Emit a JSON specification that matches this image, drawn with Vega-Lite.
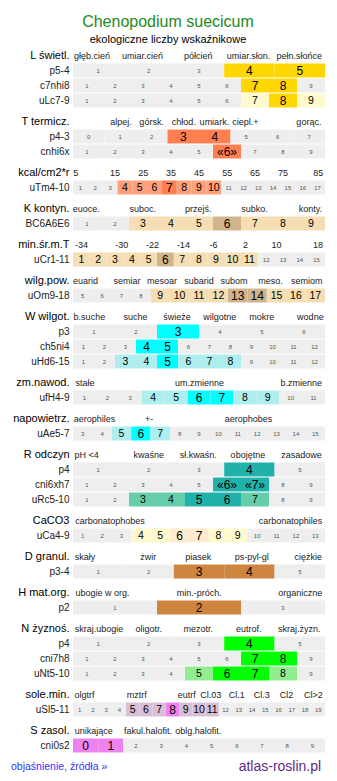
{
  "$schema": "https://vega.github.io/schema/vega-lite/v6.json",
  "padding": {"left": 10, "top": 14, "right": 5, "bottom": 5},
  "background": "white",
  "config": {"view": {"stroke": null}, "font": "Liberation Sans"},
  "title": {
    "text": "Chenopodium suecicum",
    "subtitle": "ekologiczne liczby wskaźnikowe",
    "color": "#228B22",
    "fontSize": 16,
    "fontWeight": "normal",
    "font": "Liberation Sans",
    "subtitleFont": "Liberation Sans",
    "subtitleFontSize": 11,
    "subtitleColor": "#000000",
    "subtitlePadding": 4,
    "anchor": "middle",
    "frame": "bounds",
    "offset": 3
  },
  "data": {"values": [
    {"g":"01","ln":"L świetl.","k":"h","t":"głęb.cień","p":0.075},
    {"g":"01","ln":"L świetl.","k":"h","t":"umiar.cień","p":0.276},
    {"g":"01","ln":"L świetl.","k":"h","t":"półcień","p":0.497},
    {"g":"01","ln":"L świetl.","k":"h","t":"umiar.słon.","p":0.696},
    {"g":"01","ln":"L świetl.","k":"h","t":"pełn.słońce","p":0.898},
    {"g":"01","ln":"p5-4","k":"c","t":"1","c":0},
    {"g":"01","ln":"p5-4","k":"c","t":"2","c":0},
    {"g":"01","ln":"p5-4","k":"c","t":"3","c":0},
    {"g":"01","ln":"p5-4","k":"c","t":"4","c":2},
    {"g":"01","ln":"p5-4","k":"c","t":"5","c":2},
    {"g":"01","ln":"c7nhi8","k":"c","t":"1","c":0},
    {"g":"01","ln":"c7nhi8","k":"c","t":"2","c":0},
    {"g":"01","ln":"c7nhi8","k":"c","t":"3","c":0},
    {"g":"01","ln":"c7nhi8","k":"c","t":"4","c":0},
    {"g":"01","ln":"c7nhi8","k":"c","t":"5","c":0},
    {"g":"01","ln":"c7nhi8","k":"c","t":"6","c":0},
    {"g":"01","ln":"c7nhi8","k":"c","t":"7","c":2},
    {"g":"01","ln":"c7nhi8","k":"c","t":"8","c":2},
    {"g":"01","ln":"c7nhi8","k":"c","t":"9","c":0},
    {"g":"01","ln":"uLc7-9","k":"c","t":"1","c":0},
    {"g":"01","ln":"uLc7-9","k":"c","t":"2","c":0},
    {"g":"01","ln":"uLc7-9","k":"c","t":"3","c":0},
    {"g":"01","ln":"uLc7-9","k":"c","t":"4","c":0},
    {"g":"01","ln":"uLc7-9","k":"c","t":"5","c":0},
    {"g":"01","ln":"uLc7-9","k":"c","t":"6","c":0},
    {"g":"01","ln":"uLc7-9","k":"c","t":"7","c":1},
    {"g":"01","ln":"uLc7-9","k":"c","t":"8","c":2},
    {"g":"01","ln":"uLc7-9","k":"c","t":"9","c":1},

    {"g":"02","ln":"T termicz.","k":"h","t":"alpej.","p":0.190},
    {"g":"02","ln":"T termicz.","k":"h","t":"górsk.","p":0.312},
    {"g":"02","ln":"T termicz.","k":"h","t":"chłod.","p":0.440},
    {"g":"02","ln":"T termicz.","k":"h","t":"umiark.","p":0.561},
    {"g":"02","ln":"T termicz.","k":"h","t":"ciepl.+","p":0.684},
    {"g":"02","ln":"T termicz.","k":"h","t":"gorąc.","p":0.936},
    {"g":"02","ln":"p4-3","k":"c","t":"0","c":0},
    {"g":"02","ln":"p4-3","k":"c","t":"1","c":0},
    {"g":"02","ln":"p4-3","k":"c","t":"2","c":0},
    {"g":"02","ln":"p4-3","k":"c","t":"3","c":2},
    {"g":"02","ln":"p4-3","k":"c","t":"4","c":2},
    {"g":"02","ln":"p4-3","k":"c","t":"5","c":0},
    {"g":"02","ln":"p4-3","k":"c","t":"6","c":0},
    {"g":"02","ln":"p4-3","k":"c","t":"7","c":0},
    {"g":"02","ln":"cnhi6x","k":"c","t":"1","c":0},
    {"g":"02","ln":"cnhi6x","k":"c","t":"2","c":0},
    {"g":"02","ln":"cnhi6x","k":"c","t":"3","c":0},
    {"g":"02","ln":"cnhi6x","k":"c","t":"4","c":0},
    {"g":"02","ln":"cnhi6x","k":"c","t":"5","c":0},
    {"g":"02","ln":"cnhi6x","k":"c","t":"«6»","c":2},
    {"g":"02","ln":"cnhi6x","k":"c","t":"7","c":0},
    {"g":"02","ln":"cnhi6x","k":"c","t":"8","c":0},
    {"g":"02","ln":"cnhi6x","k":"c","t":"9","c":0},

    {"g":"03","ln":"kcal/cm2*r","k":"h","t":"5","p":0.011},
    {"g":"03","ln":"kcal/cm2*r","k":"h","t":"15","p":0.167},
    {"g":"03","ln":"kcal/cm2*r","k":"h","t":"25","p":0.279},
    {"g":"03","ln":"kcal/cm2*r","k":"h","t":"35","p":0.389},
    {"g":"03","ln":"kcal/cm2*r","k":"h","t":"45","p":0.5},
    {"g":"03","ln":"kcal/cm2*r","k":"h","t":"55","p":0.612},
    {"g":"03","ln":"kcal/cm2*r","k":"h","t":"65","p":0.722},
    {"g":"03","ln":"kcal/cm2*r","k":"h","t":"75","p":0.833},
    {"g":"03","ln":"kcal/cm2*r","k":"h","t":"85","p":0.973},
    {"g":"03","ln":"uTm4-10","k":"c","t":"1","c":0},
    {"g":"03","ln":"uTm4-10","k":"c","t":"2","c":0},
    {"g":"03","ln":"uTm4-10","k":"c","t":"3","c":0},
    {"g":"03","ln":"uTm4-10","k":"c","t":"4","c":1},
    {"g":"03","ln":"uTm4-10","k":"c","t":"5","c":1},
    {"g":"03","ln":"uTm4-10","k":"c","t":"6","c":1},
    {"g":"03","ln":"uTm4-10","k":"c","t":"7","c":2},
    {"g":"03","ln":"uTm4-10","k":"c","t":"8","c":1},
    {"g":"03","ln":"uTm4-10","k":"c","t":"9","c":1},
    {"g":"03","ln":"uTm4-10","k":"c","t":"10","c":1},
    {"g":"03","ln":"uTm4-10","k":"c","t":"11","c":0},
    {"g":"03","ln":"uTm4-10","k":"c","t":"12","c":0},
    {"g":"03","ln":"uTm4-10","k":"c","t":"13","c":0},
    {"g":"03","ln":"uTm4-10","k":"c","t":"14","c":0},
    {"g":"03","ln":"uTm4-10","k":"c","t":"15","c":0},
    {"g":"03","ln":"uTm4-10","k":"c","t":"16","c":0},
    {"g":"03","ln":"uTm4-10","k":"c","t":"17","c":0},

    {"g":"04","ln":"K kontyn.","k":"h","t":"euoce.","p":0.053},
    {"g":"04","ln":"K kontyn.","k":"h","t":"suboc.","p":0.277},
    {"g":"04","ln":"K kontyn.","k":"h","t":"przejś.","p":0.497},
    {"g":"04","ln":"K kontyn.","k":"h","t":"subko.","p":0.72},
    {"g":"04","ln":"K kontyn.","k":"h","t":"konty.","p":0.942},
    {"g":"04","ln":"BC6A6E6","k":"c","t":"1","c":0},
    {"g":"04","ln":"BC6A6E6","k":"c","t":"2","c":0},
    {"g":"04","ln":"BC6A6E6","k":"c","t":"3","c":1},
    {"g":"04","ln":"BC6A6E6","k":"c","t":"4","c":1},
    {"g":"04","ln":"BC6A6E6","k":"c","t":"5","c":1},
    {"g":"04","ln":"BC6A6E6","k":"c","t":"6","c":2},
    {"g":"04","ln":"BC6A6E6","k":"c","t":"7","c":1},
    {"g":"04","ln":"BC6A6E6","k":"c","t":"8","c":1},
    {"g":"04","ln":"BC6A6E6","k":"c","t":"9","c":1},

    {"g":"05","ln":"min.śr.m.T","k":"h","t":"-34","p":0.034},
    {"g":"05","ln":"min.śr.m.T","k":"h","t":"-30","p":0.193},
    {"g":"05","ln":"min.śr.m.T","k":"h","t":"-22","p":0.315},
    {"g":"05","ln":"min.śr.m.T","k":"h","t":"-14","p":0.438},
    {"g":"05","ln":"min.śr.m.T","k":"h","t":"-6","p":0.558},
    {"g":"05","ln":"min.śr.m.T","k":"h","t":"2","p":0.685},
    {"g":"05","ln":"min.śr.m.T","k":"h","t":"10","p":0.808},
    {"g":"05","ln":"min.śr.m.T","k":"h","t":"18","p":0.972},
    {"g":"05","ln":"uCr1-11","k":"c","t":"1","c":1},
    {"g":"05","ln":"uCr1-11","k":"c","t":"2","c":1},
    {"g":"05","ln":"uCr1-11","k":"c","t":"3","c":1},
    {"g":"05","ln":"uCr1-11","k":"c","t":"4","c":1},
    {"g":"05","ln":"uCr1-11","k":"c","t":"5","c":1},
    {"g":"05","ln":"uCr1-11","k":"c","t":"6","c":2},
    {"g":"05","ln":"uCr1-11","k":"c","t":"7","c":1},
    {"g":"05","ln":"uCr1-11","k":"c","t":"8","c":1},
    {"g":"05","ln":"uCr1-11","k":"c","t":"9","c":1},
    {"g":"05","ln":"uCr1-11","k":"c","t":"10","c":1},
    {"g":"05","ln":"uCr1-11","k":"c","t":"11","c":1},
    {"g":"05","ln":"uCr1-11","k":"c","t":"12","c":0},
    {"g":"05","ln":"uCr1-11","k":"c","t":"13","c":0},
    {"g":"05","ln":"uCr1-11","k":"c","t":"14","c":0},
    {"g":"05","ln":"uCr1-11","k":"c","t":"15","c":0},

    {"g":"06","ln":"wilg.pow.","k":"h","t":"euarid","p":0.050},
    {"g":"06","ln":"wilg.pow.","k":"h","t":"semiar","p":0.214},
    {"g":"06","ln":"wilg.pow.","k":"h","t":"mesoar","p":0.353},
    {"g":"06","ln":"wilg.pow.","k":"h","t":"subarid","p":0.5},
    {"g":"06","ln":"wilg.pow.","k":"h","t":"subom","p":0.639},
    {"g":"06","ln":"wilg.pow.","k":"h","t":"meso.","p":0.784},
    {"g":"06","ln":"wilg.pow.","k":"h","t":"semiom","p":0.928},
    {"g":"06","ln":"uOm9-18","k":"c","t":"5","c":0},
    {"g":"06","ln":"uOm9-18","k":"c","t":"6","c":0},
    {"g":"06","ln":"uOm9-18","k":"c","t":"7","c":0},
    {"g":"06","ln":"uOm9-18","k":"c","t":"8","c":0},
    {"g":"06","ln":"uOm9-18","k":"c","t":"9","c":1},
    {"g":"06","ln":"uOm9-18","k":"c","t":"10","c":1},
    {"g":"06","ln":"uOm9-18","k":"c","t":"11","c":1},
    {"g":"06","ln":"uOm9-18","k":"c","t":"12","c":1},
    {"g":"06","ln":"uOm9-18","k":"c","t":"13","c":2},
    {"g":"06","ln":"uOm9-18","k":"c","t":"14","c":2},
    {"g":"06","ln":"uOm9-18","k":"c","t":"15","c":1},
    {"g":"06","ln":"uOm9-18","k":"c","t":"16","c":1},
    {"g":"06","ln":"uOm9-18","k":"c","t":"17","c":1},

    {"g":"07","ln":"W wilgot.","k":"h","t":"b.suche","p":0.065},
    {"g":"07","ln":"W wilgot.","k":"h","t":"suche","p":0.248},
    {"g":"07","ln":"W wilgot.","k":"h","t":"świeże","p":0.413},
    {"g":"07","ln":"W wilgot.","k":"h","t":"wilgotne","p":0.582},
    {"g":"07","ln":"W wilgot.","k":"h","t":"mokre","p":0.749},
    {"g":"07","ln":"W wilgot.","k":"h","t":"wodne","p":0.942},
    {"g":"07","ln":"p3","k":"c","t":"1","c":0},
    {"g":"07","ln":"p3","k":"c","t":"2","c":0},
    {"g":"07","ln":"p3","k":"c","t":"3","c":2},
    {"g":"07","ln":"p3","k":"c","t":"4","c":0},
    {"g":"07","ln":"p3","k":"c","t":"5","c":0},
    {"g":"07","ln":"p3","k":"c","t":"6","c":0},
    {"g":"07","ln":"ch5ni4","k":"c","t":"1","c":0},
    {"g":"07","ln":"ch5ni4","k":"c","t":"2","c":0},
    {"g":"07","ln":"ch5ni4","k":"c","t":"3","c":0},
    {"g":"07","ln":"ch5ni4","k":"c","t":"4","c":2},
    {"g":"07","ln":"ch5ni4","k":"c","t":"5","c":2},
    {"g":"07","ln":"ch5ni4","k":"c","t":"6","c":0},
    {"g":"07","ln":"ch5ni4","k":"c","t":"7","c":0},
    {"g":"07","ln":"ch5ni4","k":"c","t":"8","c":0},
    {"g":"07","ln":"ch5ni4","k":"c","t":"9","c":0},
    {"g":"07","ln":"ch5ni4","k":"c","t":"10","c":0},
    {"g":"07","ln":"ch5ni4","k":"c","t":"11","c":0},
    {"g":"07","ln":"ch5ni4","k":"c","t":"12","c":0},
    {"g":"07","ln":"uHd6-15","k":"c","t":"1","c":0},
    {"g":"07","ln":"uHd6-15","k":"c","t":"2","c":0},
    {"g":"07","ln":"uHd6-15","k":"c","t":"3","c":1},
    {"g":"07","ln":"uHd6-15","k":"c","t":"4","c":1},
    {"g":"07","ln":"uHd6-15","k":"c","t":"5","c":2},
    {"g":"07","ln":"uHd6-15","k":"c","t":"6","c":1},
    {"g":"07","ln":"uHd6-15","k":"c","t":"7","c":1},
    {"g":"07","ln":"uHd6-15","k":"c","t":"8","c":1},
    {"g":"07","ln":"uHd6-15","k":"c","t":"9","c":0},
    {"g":"07","ln":"uHd6-15","k":"c","t":"10","c":0},
    {"g":"07","ln":"uHd6-15","k":"c","t":"11","c":0},
    {"g":"07","ln":"uHd6-15","k":"c","t":"12","c":0},

    {"g":"08","ln":"zm.nawod.","k":"h","t":"stałe","p":0.048},
    {"g":"08","ln":"zm.nawod.","k":"h","t":"um.zmienne","p":0.502},
    {"g":"08","ln":"zm.nawod.","k":"h","t":"b.zmienne","p":0.906},
    {"g":"08","ln":"ufH4-9","k":"c","t":"1","c":0},
    {"g":"08","ln":"ufH4-9","k":"c","t":"2","c":0},
    {"g":"08","ln":"ufH4-9","k":"c","t":"3","c":0},
    {"g":"08","ln":"ufH4-9","k":"c","t":"4","c":1},
    {"g":"08","ln":"ufH4-9","k":"c","t":"5","c":1},
    {"g":"08","ln":"ufH4-9","k":"c","t":"6","c":2},
    {"g":"08","ln":"ufH4-9","k":"c","t":"7","c":2},
    {"g":"08","ln":"ufH4-9","k":"c","t":"8","c":1},
    {"g":"08","ln":"ufH4-9","k":"c","t":"9","c":1},
    {"g":"08","ln":"ufH4-9","k":"c","t":"10","c":0},
    {"g":"08","ln":"ufH4-9","k":"c","t":"11","c":0},

    {"g":"09","ln":"napowietrz.","k":"h","t":"aerophiles","p":0.085},
    {"g":"09","ln":"napowietrz.","k":"h","t":"+-","p":0.302},
    {"g":"09","ln":"napowietrz.","k":"h","t":"aerophobes","p":0.696},
    {"g":"09","ln":"uAe5-7","k":"c","t":"3","c":0},
    {"g":"09","ln":"uAe5-7","k":"c","t":"4","c":0},
    {"g":"09","ln":"uAe5-7","k":"c","t":"5","c":1},
    {"g":"09","ln":"uAe5-7","k":"c","t":"6","c":2},
    {"g":"09","ln":"uAe5-7","k":"c","t":"7","c":1},
    {"g":"09","ln":"uAe5-7","k":"c","t":"8","c":0},
    {"g":"09","ln":"uAe5-7","k":"c","t":"9","c":0},
    {"g":"09","ln":"uAe5-7","k":"c","t":"10","c":0},
    {"g":"09","ln":"uAe5-7","k":"c","t":"11","c":0},
    {"g":"09","ln":"uAe5-7","k":"c","t":"12","c":0},
    {"g":"09","ln":"uAe5-7","k":"c","t":"13","c":0},
    {"g":"09","ln":"uAe5-7","k":"c","t":"14","c":0},
    {"g":"09","ln":"uAe5-7","k":"c","t":"15","c":0},

    {"g":"10","ln":"R odczyn","k":"h","t":"pH <4","p":0.054},
    {"g":"10","ln":"R odczyn","k":"h","t":"kwaśne","p":0.301},
    {"g":"10","ln":"R odczyn","k":"h","t":"sł.kwaśn.","p":0.497},
    {"g":"10","ln":"R odczyn","k":"h","t":"obojętne","p":0.694},
    {"g":"10","ln":"R odczyn","k":"h","t":"zasadowe","p":0.907},
    {"g":"10","ln":"p4","k":"c","t":"1","c":0},
    {"g":"10","ln":"p4","k":"c","t":"2","c":0},
    {"g":"10","ln":"p4","k":"c","t":"3","c":0},
    {"g":"10","ln":"p4","k":"c","t":"4","c":2},
    {"g":"10","ln":"p4","k":"c","t":"5","c":0},
    {"g":"10","ln":"cni6xh7","k":"c","t":"1","c":0},
    {"g":"10","ln":"cni6xh7","k":"c","t":"2","c":0},
    {"g":"10","ln":"cni6xh7","k":"c","t":"3","c":0},
    {"g":"10","ln":"cni6xh7","k":"c","t":"4","c":0},
    {"g":"10","ln":"cni6xh7","k":"c","t":"5","c":0},
    {"g":"10","ln":"cni6xh7","k":"c","t":"«6»","c":2},
    {"g":"10","ln":"cni6xh7","k":"c","t":"«7»","c":2},
    {"g":"10","ln":"cni6xh7","k":"c","t":"8","c":0},
    {"g":"10","ln":"cni6xh7","k":"c","t":"9","c":0},
    {"g":"10","ln":"uRc5-10","k":"c","t":"1","c":0},
    {"g":"10","ln":"uRc5-10","k":"c","t":"2","c":0},
    {"g":"10","ln":"uRc5-10","k":"c","t":"3","c":1},
    {"g":"10","ln":"uRc5-10","k":"c","t":"4","c":1},
    {"g":"10","ln":"uRc5-10","k":"c","t":"5","c":2},
    {"g":"10","ln":"uRc5-10","k":"c","t":"6","c":2},
    {"g":"10","ln":"uRc5-10","k":"c","t":"7","c":1},
    {"g":"10","ln":"uRc5-10","k":"c","t":"8","c":0},
    {"g":"10","ln":"uRc5-10","k":"c","t":"9","c":0},

    {"g":"11","ln":"CaCO3","k":"h","t":"carbonatophobes","p":0.147},
    {"g":"11","ln":"CaCO3","k":"h","t":"carbonatophiles","p":0.863},
    {"g":"11","ln":"uCa4-9","k":"c","t":"1","c":0},
    {"g":"11","ln":"uCa4-9","k":"c","t":"2","c":0},
    {"g":"11","ln":"uCa4-9","k":"c","t":"3","c":0},
    {"g":"11","ln":"uCa4-9","k":"c","t":"4","c":1},
    {"g":"11","ln":"uCa4-9","k":"c","t":"5","c":1},
    {"g":"11","ln":"uCa4-9","k":"c","t":"6","c":2},
    {"g":"11","ln":"uCa4-9","k":"c","t":"7","c":2},
    {"g":"11","ln":"uCa4-9","k":"c","t":"8","c":1},
    {"g":"11","ln":"uCa4-9","k":"c","t":"9","c":1},
    {"g":"11","ln":"uCa4-9","k":"c","t":"10","c":0},
    {"g":"11","ln":"uCa4-9","k":"c","t":"11","c":0},
    {"g":"11","ln":"uCa4-9","k":"c","t":"12","c":0},
    {"g":"11","ln":"uCa4-9","k":"c","t":"13","c":0},

    {"g":"12","ln":"D granul.","k":"h","t":"skały","p":0.048},
    {"g":"12","ln":"D granul.","k":"h","t":"żwir","p":0.299},
    {"g":"12","ln":"D granul.","k":"h","t":"piasek","p":0.497},
    {"g":"12","ln":"D granul.","k":"h","t":"ps-pyl-gl","p":0.709},
    {"g":"12","ln":"D granul.","k":"h","t":"ciężkie","p":0.934},
    {"g":"12","ln":"p3-4","k":"c","t":"1","c":0},
    {"g":"12","ln":"p3-4","k":"c","t":"2","c":0},
    {"g":"12","ln":"p3-4","k":"c","t":"3","c":2},
    {"g":"12","ln":"p3-4","k":"c","t":"4","c":2},
    {"g":"12","ln":"p3-4","k":"c","t":"5","c":0},

    {"g":"13","ln":"H mat.org.","k":"h","t":"ubogie w org.","p":0.117},
    {"g":"13","ln":"H mat.org.","k":"h","t":"min.-próch.","p":0.501},
    {"g":"13","ln":"H mat.org.","k":"h","t":"organiczne","p":0.902},
    {"g":"13","ln":"p2","k":"c","t":"1","c":0},
    {"g":"13","ln":"p2","k":"c","t":"2","c":2},
    {"g":"13","ln":"p2","k":"c","t":"3","c":0},

    {"g":"14","ln":"N żyznoś.","k":"h","t":"skraj.ubogie","p":0.103},
    {"g":"14","ln":"N żyznoś.","k":"h","t":"oligotr.","p":0.301},
    {"g":"14","ln":"N żyznoś.","k":"h","t":"mezotr.","p":0.497},
    {"g":"14","ln":"N żyznoś.","k":"h","t":"eutrof.","p":0.697},
    {"g":"14","ln":"N żyznoś.","k":"h","t":"skraj.żyzn.","p":0.898},
    {"g":"14","ln":"p4","k":"c","t":"1","c":0},
    {"g":"14","ln":"p4","k":"c","t":"2","c":0},
    {"g":"14","ln":"p4","k":"c","t":"3","c":0},
    {"g":"14","ln":"p4","k":"c","t":"4","c":2},
    {"g":"14","ln":"p4","k":"c","t":"5","c":0},
    {"g":"14","ln":"cni7h8","k":"c","t":"1","c":0},
    {"g":"14","ln":"cni7h8","k":"c","t":"2","c":0},
    {"g":"14","ln":"cni7h8","k":"c","t":"3","c":0},
    {"g":"14","ln":"cni7h8","k":"c","t":"4","c":0},
    {"g":"14","ln":"cni7h8","k":"c","t":"5","c":0},
    {"g":"14","ln":"cni7h8","k":"c","t":"6","c":0},
    {"g":"14","ln":"cni7h8","k":"c","t":"7","c":2},
    {"g":"14","ln":"cni7h8","k":"c","t":"8","c":2},
    {"g":"14","ln":"cni7h8","k":"c","t":"9","c":0},
    {"g":"14","ln":"uNt5-10","k":"c","t":"1","c":0},
    {"g":"14","ln":"uNt5-10","k":"c","t":"2","c":0},
    {"g":"14","ln":"uNt5-10","k":"c","t":"3","c":0},
    {"g":"14","ln":"uNt5-10","k":"c","t":"4","c":0},
    {"g":"14","ln":"uNt5-10","k":"c","t":"5","c":1},
    {"g":"14","ln":"uNt5-10","k":"c","t":"6","c":2},
    {"g":"14","ln":"uNt5-10","k":"c","t":"7","c":2},
    {"g":"14","ln":"uNt5-10","k":"c","t":"8","c":1},
    {"g":"14","ln":"uNt5-10","k":"c","t":"9","c":0},

    {"g":"15","ln":"sole.min.","k":"h","t":"olgtrf","p":0.046},
    {"g":"15","ln":"sole.min.","k":"h","t":"mztrf","p":0.253},
    {"g":"15","ln":"sole.min.","k":"h","t":"eutrf","p":0.451},
    {"g":"15","ln":"sole.min.","k":"h","t":"Cl.03","p":0.547},
    {"g":"15","ln":"sole.min.","k":"h","t":"Cl.1","p":0.650},
    {"g":"15","ln":"sole.min.","k":"h","t":"Cl.3","p":0.749},
    {"g":"15","ln":"sole.min.","k":"h","t":"Cl2","p":0.847},
    {"g":"15","ln":"sole.min.","k":"h","t":"Cl>2","p":0.954},
    {"g":"15","ln":"uSl5-11","k":"c","t":"1","c":0},
    {"g":"15","ln":"uSl5-11","k":"c","t":"2","c":0},
    {"g":"15","ln":"uSl5-11","k":"c","t":"3","c":0},
    {"g":"15","ln":"uSl5-11","k":"c","t":"4","c":0},
    {"g":"15","ln":"uSl5-11","k":"c","t":"5","c":1},
    {"g":"15","ln":"uSl5-11","k":"c","t":"6","c":1},
    {"g":"15","ln":"uSl5-11","k":"c","t":"7","c":1},
    {"g":"15","ln":"uSl5-11","k":"c","t":"8","c":2},
    {"g":"15","ln":"uSl5-11","k":"c","t":"9","c":1},
    {"g":"15","ln":"uSl5-11","k":"c","t":"10","c":1},
    {"g":"15","ln":"uSl5-11","k":"c","t":"11","c":1},
    {"g":"15","ln":"uSl5-11","k":"c","t":"12","c":0},
    {"g":"15","ln":"uSl5-11","k":"c","t":"13","c":0},
    {"g":"15","ln":"uSl5-11","k":"c","t":"14","c":0},
    {"g":"15","ln":"uSl5-11","k":"c","t":"15","c":0},
    {"g":"15","ln":"uSl5-11","k":"c","t":"16","c":0},
    {"g":"15","ln":"uSl5-11","k":"c","t":"17","c":0},
    {"g":"15","ln":"uSl5-11","k":"c","t":"18","c":0},
    {"g":"15","ln":"uSl5-11","k":"c","t":"19","c":0},

    {"g":"16","ln":"S zasol.","k":"h","t":"unikające","p":0.082},
    {"g":"16","ln":"S zasol.","k":"h","t":"fakul.halofit.","p":0.298},
    {"g":"16","ln":"S zasol.","k":"h","t":"oblg.halofit.","p":0.497},
    {"g":"16","ln":"cni0s2","k":"c","t":"0","c":2},
    {"g":"16","ln":"cni0s2","k":"c","t":"1","c":2},
    {"g":"16","ln":"cni0s2","k":"c","t":"2","c":0},
    {"g":"16","ln":"cni0s2","k":"c","t":"3","c":0},
    {"g":"16","ln":"cni0s2","k":"c","t":"4","c":0},
    {"g":"16","ln":"cni0s2","k":"c","t":"5","c":0},
    {"g":"16","ln":"cni0s2","k":"c","t":"6","c":0},
    {"g":"16","ln":"cni0s2","k":"c","t":"7","c":0},
    {"g":"16","ln":"cni0s2","k":"c","t":"8","c":0},
    {"g":"16","ln":"cni0s2","k":"c","t":"9","c":0},

    {"g":"17","ln":"","k":"fl","t":"objaśnienie, źródła »","p":-0.055},
    {"g":"17","ln":"","k":"fr","t":"atlas-roslin.pl","p":0.821}
  ]},
  "transform": [
    {"window": [{"op": "row_number", "as": "rn"}, {"op": "count", "as": "n"}], "groupby": ["g", "ln"], "frame": [null, null]},
    {"calculate": "datum.k == 'c' ? (datum.rn - 1) / datum.n : datum.p", "as": "x0"},
    {"calculate": "datum.k == 'c' ? datum.rn / datum.n : datum.p", "as": "x1"},
    {"calculate": "(datum.x0 + datum.x1) / 2", "as": "xm"},
    {"calculate": "datum.k == 'c' ? (datum.c == 0 ? 'bg' : datum.g + '-' + datum.c) : 'none'", "as": "ck"}
  ],
  "facet": {"row": {"field": "g", "type": "ordinal", "header": null}},
  "spacing": 6,
  "resolve": {"scale": {"y": "independent"}},
  "spec": {
    "width": 252,
    "height": {"step": 15},
    "encoding": {
      "y": {
        "field": "ln", "type": "nominal", "sort": null,
        "scale": {"paddingInner": 0.07, "paddingOuter": 0.035},
        "axis": {
          "title": null, "domain": false, "ticks": false, "labelPadding": 4,
          "labelFont": "Liberation Sans",
          "labelFontSize": {"condition": {"test": "datum.index == 0", "value": 11}, "value": 10},
          "labelColor": {"condition": {"test": "datum.index == 0", "value": "#000000"}, "value": "#222222"}
        }
      }
    },
    "layer": [
      {
        "mark": {"type": "rect", "strokeWidth": 0},
        "encoding": {
          "x": {"field": "x0", "type": "quantitative", "scale": {"domain": [0, 1]}, "axis": null},
          "x2": {"field": "x1"},
          "fill": {
            "field": "ck", "type": "nominal", "legend": null,
            "scale": {
              "domain": ["bg","none","01-1","01-2","02-2","03-1","03-2","04-1","04-2","05-1","05-2","06-1","06-2","07-1","07-2","08-1","08-2","09-1","09-2","10-1","10-2","11-1","11-2","12-2","13-2","14-1","14-2","15-1","15-2","16-2"],
              "range": ["#EEEEEE","transparent","#FFFACD","#FFD700","#FF7F50","#FFA07A","#FF7F50","#F5DEB3","#D2B48C","#F5DEB3","#D2B48C","#F5DEB3","#D2B48C","#AFEEEE","#00FFFF","#AFEEEE","#00FFFF","#AFEEEE","#00FFFF","#66CDAA","#20B2AA","#FFFACD","#FFEBCD","#CD853F","#CD853F","#90EE90","#00FF00","#D8BFD8","#EE82EE","#EE82EE"]
            }
          }
        }
      },
      {
        "mark": {"type": "text", "align": "center", "baseline": "middle", "font": "Liberation Sans"},
        "encoding": {
          "x": {"field": "xm", "type": "quantitative"},
          "text": {"field": "t"},
          "size": {
            "condition": [
              {"test": "datum.k == 'fl'", "value": 10.5},
              {"test": "datum.k == 'fr'", "value": 14},
              {"test": "datum.k == 'h'", "value": 9},
              {"test": "datum.c == 0", "value": 6},
              {"test": "datum.c == 1", "value": 10.5}
            ],
            "value": 12
          },
          "color": {
            "condition": [
              {"test": "datum.k == 'fl'", "value": "#3333FF"},
              {"test": "datum.k == 'fr'", "value": "#5B2A86"},
              {"test": "datum.k == 'h'", "value": "#222222"},
              {"test": "datum.c == 0", "value": "#555555"}
            ],
            "value": "#000000"
          }
        }
      }
    ]
  }
}
